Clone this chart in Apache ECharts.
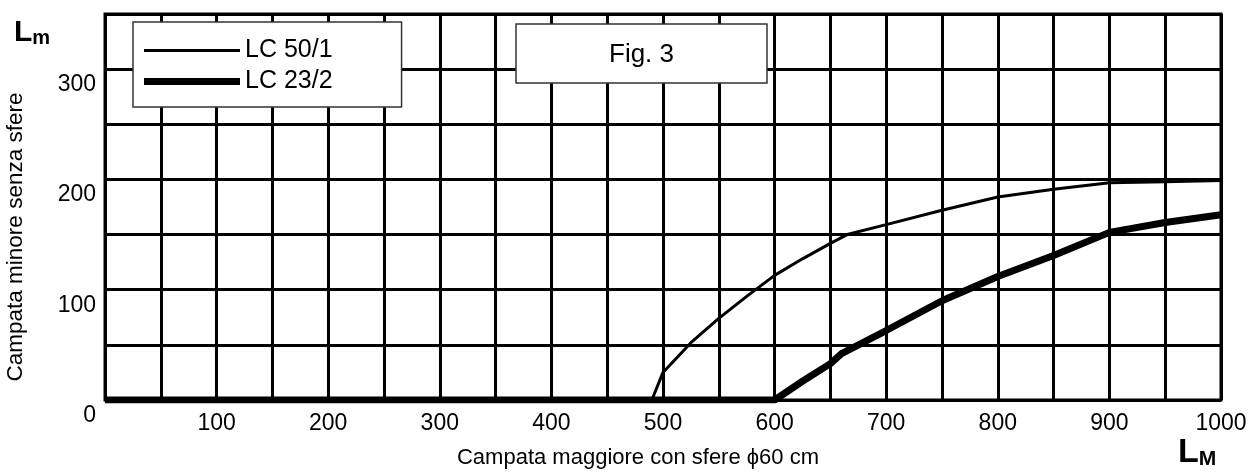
<!DOCTYPE html>
<html>
<head>
<meta charset="utf-8">
<title>Fig. 3</title>
<script src="https://cdn.jsdelivr.net/npm/echarts@6/dist/echarts.min.js"></script>
<style>
  html, body { margin: 0; padding: 0; background: #fff; }
  #main { width: 1255px; height: 472px; }
</style>
</head>
<body>
<div id="main"></div>
<script>
// LC 50/1 (linea sottile): [campata maggiore, campata minore]
var lc50 = [[0, 0], [490, 0], [500, 25], [525, 52], [550, 74], [575, 94], [600, 113],
  [625, 128], [650, 142], [665, 150], [700, 159], [750, 172], [800, 184],
  [850, 191], [900, 197], [950, 198], [1000, 199]];
// LC 23/2 (linea spessa)
var lc23 = [[0, 0], [600, 0], [625, 17], [650, 33], [660, 42], [700, 63], [750, 90],
  [800, 112], [850, 131], [900, 152], [950, 161], [1000, 168]];
var xTicks = [100, 200, 300, 400, 500, 600, 700, 800, 900, 1000];
var yTicks = [0, 100, 200, 300];

var font = 'Liberation Sans, Arial, sans-serif';
var chart = echarts.init(document.getElementById('main'));
chart.setOption({
  animation: false,
  backgroundColor: '#fff',
  title: {
    text: 'Fig. 3',
    left: 516, top: 24,
    padding: [18, 93, 15, 93],
    borderColor: '#333', borderWidth: 1.5,
    backgroundColor: '#fff',
    textStyle: { fontFamily: font, fontSize: 26, lineHeight: 26, fontWeight: 'normal', color: '#000' }
  },
  legend: {
    orient: 'vertical',
    left: 133, top: 22,
    padding: [16, 69, 13, 11],
    itemGap: 6,
    itemWidth: 96, itemHeight: 7,
    symbolKeepAspect: true,
    borderColor: '#333', borderWidth: 1.5,
    backgroundColor: '#fff',
    textStyle: { fontFamily: font, fontSize: 25, lineHeight: 24, color: '#000' },
    data: [
      { name: 'LC 50/1', icon: 'path://M0,0 H96 V3 H0 Z' },
      { name: 'LC 23/2', icon: 'path://M0,0 H96 V7 H0 Z' }
    ]
  },
  grid: {
    left: 105, right: 34, top: 14, bottom: 72,
    outerBoundsMode: 'none',
    show: true, borderColor: '#000', borderWidth: 3
  },
  xAxis: {
    type: 'value', min: 0, max: 1000, interval: 50,
    name: 'Campata maggiore con sfere \u03d560 cm',
    nameLocation: 'middle', nameGap: 47,
    nameTextStyle: { fontFamily: font, fontSize: 22, color: '#000', padding: [0, 50, 0, 0] },
    axisLine: { show: false },
    axisTick: { show: false },
    splitLine: { lineStyle: { color: '#000', width: 3 } },
    axisLabel: {
      fontFamily: font, fontSize: 23, color: '#000', margin: 12,
      formatter: function (v) { return xTicks.indexOf(v) >= 0 ? String(v) : ''; }
    }
  },
  yAxis: {
    type: 'value', min: 0, max: 350, interval: 50,
    name: 'Campata minore senza sfere',
    nameLocation: 'middle', nameRotate: 90, nameGap: 78,
    nameTextStyle: { fontFamily: font, fontSize: 22.5, color: '#000', padding: [0, 60, 0, 0] },
    axisLine: { show: false },
    axisTick: { show: false },
    splitLine: { lineStyle: { color: '#000', width: 3 } },
    axisLabel: {
      fontFamily: font, fontSize: 23, color: '#000', margin: 9,
      verticalAlign: 'top', lineHeight: 31,
      formatter: function (v) { return yTicks.indexOf(v) >= 0 ? String(v) : ''; }
    }
  },
  graphic: [
    {
      type: 'text', left: 14, top: 18,
      style: {
        text: '{a|L}{b|m}',
        rich: {
          a: { fontFamily: font, fontSize: 30, fontWeight: 'bold', fill: '#000', verticalAlign: 'bottom' },
          b: { fontFamily: font, fontSize: 20, fontWeight: 'bold', fill: '#000', verticalAlign: 'bottom' }
        }
      }
    },
    {
      type: 'text', left: 1178, top: 436,
      style: {
        text: '{a|L}{b|M}',
        rich: {
          a: { fontFamily: font, fontSize: 34, fontWeight: 'bold', fill: '#000', verticalAlign: 'bottom' },
          b: { fontFamily: font, fontSize: 21, fontWeight: 'bold', fill: '#000', verticalAlign: 'bottom' }
        }
      }
    }
  ],
  series: [
    {
      name: 'LC 50/1', type: 'line', data: lc50, symbol: 'none',
      lineStyle: { color: '#000', width: 3 }, itemStyle: { color: '#000' }
    },
    {
      name: 'LC 23/2', type: 'line', data: lc23, symbol: 'none',
      lineStyle: { color: '#000', width: 7 }, itemStyle: { color: '#000' }
    }
  ]
});
</script>
</body>
</html>
